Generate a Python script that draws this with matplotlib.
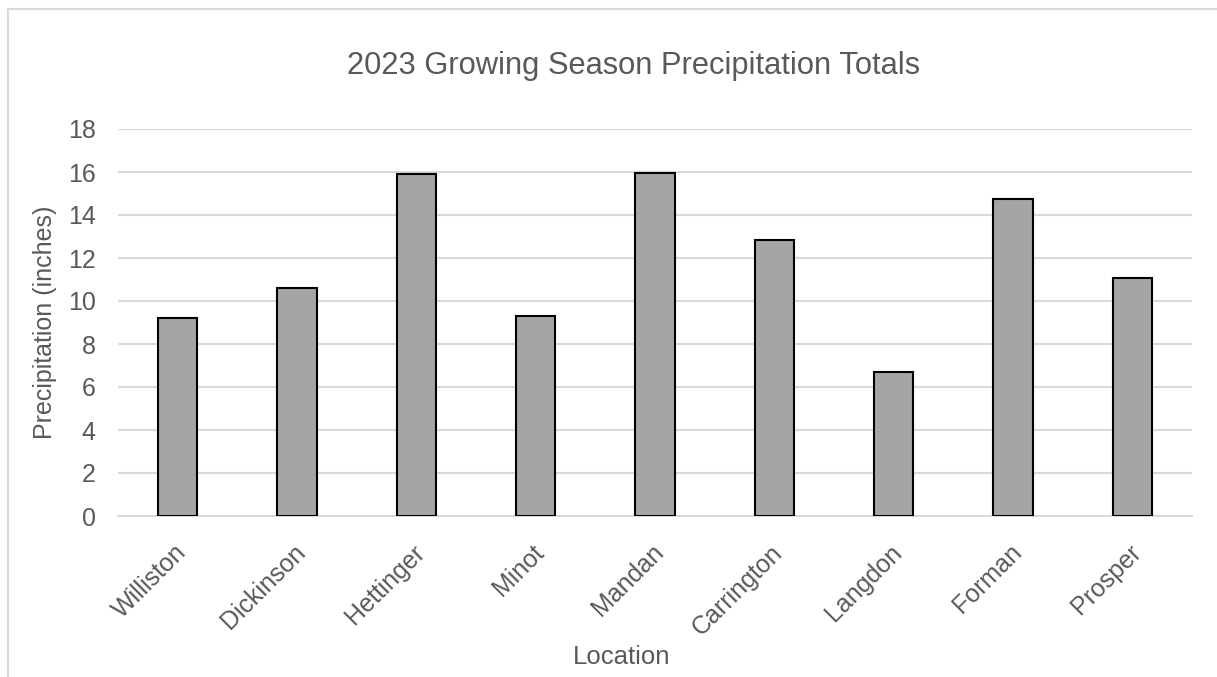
import matplotlib
matplotlib.use("Agg")
import matplotlib.pyplot as plt
from matplotlib.patches import Rectangle
from matplotlib.transforms import ScaledTranslation

locations = ["Williston", "Dickinson", "Hettinger", "Minot", "Mandan",
             "Carrington", "Langdon", "Forman", "Prosper"]
precip = [9.2, 10.6, 15.9, 9.3, 15.95, 12.85, 6.7, 14.75, 11.05]
yticks = [0, 2, 4, 6, 8, 10, 12, 14, 16, 18]

plt.rcParams['font.family'] = ['Liberation Sans', 'DejaVu Sans']
txt = '#595959'

fig = plt.figure(figsize=(12.17, 6.77), dpi=100)
W, H = 1217, 677
ax = fig.add_axes([118 / W, 1 - 516 / H, (1192 - 118) / W, (516 - 129) / H])

x = range(len(locations))
ax.bar(x, precip, width=0.33, color='#a5a5a5', edgecolor='black', linewidth=1.5, zorder=3)
ax.set_xlim(-0.5, len(locations) - 0.5)
ax.set_ylim(0, 18)
ax.set_yticks(yticks)
ax.set_yticklabels([str(v) for v in yticks], fontsize=18, color=txt)
ax.grid(axis='y', color='#d9d9d9', linewidth=1.5, zorder=0)
for s in ['top', 'right', 'left']:
    ax.spines[s].set_visible(False)
ax.spines['bottom'].set_color('#d9d9d9')
ax.spines['bottom'].set_linewidth(1.5)
ax.tick_params(axis='both', length=0)
ax.tick_params(axis='y', pad=16)
ax.set_xticks(list(x))
ax.set_xticklabels(locations, fontsize=18, color=txt, rotation=45,
                   ha='right', va='center', rotation_mode='anchor')
offset = ScaledTranslation(3.5 / 72, -20 / 72, fig.dpi_scale_trans)
for lab in ax.get_xticklabels():
    lab.set_transform(lab.get_transform() + offset)

fig.text(622 / W, 1 - 657 / H, "Location", fontsize=18.5, color=txt, ha='center', va='center')
fig.text(45 / W, 1 - 322 / H, "Precipitation (inches)", fontsize=18, color=txt,
         ha='center', va='center', rotation=90)
fig.text(634 / W, 1 - 66 / H, "2023 Growing Season Precipitation Totals", fontsize=22.2,
         color=txt, ha='center', va='center')

fig.patches.append(Rectangle((8 / W, -0.1), 1.2, 1 - 9 / H + 0.1, transform=fig.transFigure,
                             fill=False, edgecolor='#d9d9d9', linewidth=1.5))

fig.savefig("out.png", dpi=100)
